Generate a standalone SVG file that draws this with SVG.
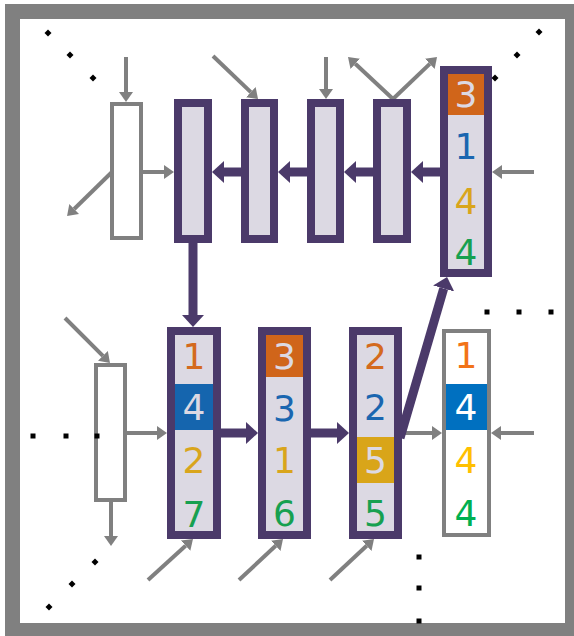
<svg xmlns="http://www.w3.org/2000/svg" width="574" height="636" viewBox="0 0 574 636">
  <style>
    .frame { fill: #808080; }
    .paper { fill: #ffffff; }
    .cellbg { fill: #dcd9e3; }
    .pframe { fill: none; stroke: #4b3a6a; stroke-width: 8; }
    .gframe { fill: none; stroke: #808080; stroke-width: 4; }
    .gline { stroke: #808080; stroke-width: 4; fill: none; }
    .pline { stroke: #4b3a6a; stroke-width: 9; fill: none; }
    .num { font-family: "DejaVu Sans", Verdana, sans-serif; font-size: 36px; text-anchor: middle; }
    .o1 { fill: #d46a1e; } .b1 { fill: #1a66b0; } .y1 { fill: #d9a51c; } .g1 { fill: #17a050; }
    .inv { fill: #dcd9e3; }
    .o2 { fill: #f27318; } .y2 { fill: #ffc000; } .g2 { fill: #00b050; } .w2 { fill: #ffffff; }
    .dot { fill: #000000; }
  </style>
  <defs>
    <marker id="gHead" viewBox="0 -7 10 14" refX="0" refY="0" markerWidth="10" markerHeight="14" markerUnits="userSpaceOnUse" orient="auto">
      <path d="M0,-7 L10,0 L0,7 z" fill="#808080"/>
    </marker>
    <marker id="pHead" viewBox="0 -11 12 22" refX="0" refY="0" markerWidth="12" markerHeight="22" markerUnits="userSpaceOnUse" orient="auto">
      <path d="M0,-11 L12,0 L0,11 z" fill="#4b3a6a"/>
    </marker>
    <polygon id="diamond" points="0,-3.5 3.5,0 0,3.5 -3.5,0" class="dot"/>
    <rect id="square" x="-2.5" y="-2.5" width="5" height="5" class="dot"/>
  </defs>

  <!-- outer frame -->
  <rect class="frame" x="5" y="4" width="569" height="632"/>
  <rect class="paper" x="20" y="19" width="545" height="604"/>

  <!-- connectors -->
  <g id="connectors">
    <line class="gline" x1="126" y1="57" x2="126" y2="92" marker-end="url(#gHead)"/>
    <line class="gline" x1="112" y1="172" x2="74.2" y2="209" marker-end="url(#gHead)"/>
    <line class="gline" x1="143" y1="172" x2="164" y2="172" marker-end="url(#gHead)"/>
    <line class="gline" x1="213" y1="56" x2="250.8" y2="92.1" marker-end="url(#gHead)"/>
    <line class="gline" x1="326" y1="57" x2="326" y2="89" marker-end="url(#gHead)"/>
    <line class="gline" x1="393" y1="99" x2="355.3" y2="63.8" marker-end="url(#gHead)"/>
    <line class="gline" x1="393" y1="99" x2="429.8" y2="63.9" marker-end="url(#gHead)"/>
    <line class="gline" x1="534" y1="172" x2="502" y2="172" marker-end="url(#gHead)"/>
    <line class="gline" x1="65" y1="318" x2="102.9" y2="355.9" marker-end="url(#gHead)"/>
    <line class="gline" x1="111" y1="502" x2="111" y2="536" marker-end="url(#gHead)"/>
    <line class="gline" x1="127" y1="433" x2="157" y2="433" marker-end="url(#gHead)"/>
    <line class="gline" x1="148" y1="580" x2="185.6" y2="545.7" marker-end="url(#gHead)"/>
    <line class="gline" x1="239" y1="580" x2="275.7" y2="545.8" marker-end="url(#gHead)"/>
    <line class="gline" x1="330" y1="580" x2="366.7" y2="545.8" marker-end="url(#gHead)"/>
    <line class="gline" x1="402" y1="433" x2="432" y2="433" marker-end="url(#gHead)"/>
    <line class="gline" x1="534" y1="433" x2="501" y2="433" marker-end="url(#gHead)"/>

    <line class="pline" x1="241" y1="172" x2="224" y2="172" marker-end="url(#pHead)"/>
    <line class="pline" x1="307" y1="172" x2="290" y2="172" marker-end="url(#pHead)"/>
    <line class="pline" x1="373" y1="172" x2="356" y2="172" marker-end="url(#pHead)"/>
    <line class="pline" x1="440" y1="172" x2="423" y2="172" marker-end="url(#pHead)"/>
    <line class="pline" x1="193" y1="243" x2="193" y2="315" marker-end="url(#pHead)"/>
    <line class="pline" x1="221" y1="433" x2="246" y2="433" marker-end="url(#pHead)"/>
    <line class="pline" x1="311" y1="433" x2="337" y2="433" marker-end="url(#pHead)"/>
    <line class="pline" x1="400" y1="438" x2="443.7" y2="288.5" marker-end="url(#pHead)"/>
  </g>

  <!-- top row -->
  <g id="w1"><rect class="paper" x="112" y="104" width="29" height="134"/><rect class="gframe" x="112" y="104" width="29" height="134"/></g>
  <g id="r1"><rect class="cellbg" x="178" y="103" width="30" height="136"/><rect class="pframe" x="178" y="103" width="30" height="136"/></g>
  <g id="r2"><rect class="cellbg" x="245" y="103" width="29" height="136"/><rect class="pframe" x="245" y="103" width="29" height="136"/></g>
  <g id="r3"><rect class="cellbg" x="311" y="103" width="29" height="136"/><rect class="pframe" x="311" y="103" width="29" height="136"/></g>
  <g id="r4"><rect class="cellbg" x="377" y="103" width="30" height="136"/><rect class="pframe" x="377" y="103" width="30" height="136"/></g>
  <g id="r5">
    <rect class="cellbg" x="444" y="70" width="44" height="203"/>
    <rect x="448" y="74" width="36" height="41" fill="#d0651a"/>
    <rect class="pframe" x="444" y="70" width="44" height="203"/>
    <text class="num inv" x="466" y="107">3</text>
    <text class="num b1" x="466" y="159">1</text>
    <text class="num y1" x="466" y="214">4</text>
    <text class="num g1" x="466" y="265">4</text>
  </g>

  <!-- bottom row -->
  <g id="w2"><rect class="paper" x="96" y="365" width="29" height="135"/><rect class="gframe" x="96" y="365" width="29" height="135"/></g>
  <g id="a">
    <rect class="cellbg" x="171" y="331" width="46" height="204"/>
    <rect x="175" y="384" width="38" height="46" fill="#1565ae"/>
    <rect class="pframe" x="171" y="331" width="46" height="204"/>
    <text class="num o1" x="194" y="369">1</text>
    <text class="num inv" x="194" y="420">4</text>
    <text class="num y1" x="194" y="473">2</text>
    <text class="num g1" x="194" y="527">7</text>
  </g>
  <g id="b">
    <rect class="cellbg" x="262" y="331" width="45" height="204"/>
    <rect x="266" y="335" width="37" height="42" fill="#d0651a"/>
    <rect class="pframe" x="262" y="331" width="45" height="204"/>
    <text class="num inv" x="284.5" y="369">3</text>
    <text class="num b1" x="284.5" y="421">3</text>
    <text class="num y1" x="284.5" y="473">1</text>
    <text class="num g1" x="284.5" y="526">6</text>
  </g>
  <g id="c">
    <rect class="cellbg" x="353" y="331" width="45" height="204"/>
    <rect x="357" y="437" width="37" height="46" fill="#d9a519"/>
    <rect class="pframe" x="353" y="331" width="45" height="204"/>
    <text class="num o1" x="375.5" y="369">2</text>
    <text class="num b1" x="375.5" y="420">2</text>
    <text class="num inv" x="375.5" y="473">5</text>
    <text class="num g1" x="375.5" y="526">5</text>
  </g>
  <g id="d">
    <rect class="paper" x="444" y="331" width="45" height="204"/>
    <rect x="446" y="384" width="41" height="46" fill="#0070c0"/>
    <rect class="gframe" x="444" y="331" width="45" height="204"/>
    <text class="num o2" x="466" y="368">1</text>
    <text class="num w2" x="466" y="420">4</text>
    <text class="num y2" x="466" y="473">4</text>
    <text class="num g2" x="466" y="526">4</text>
  </g>

  <!-- ellipsis dots -->
  <g id="dots">
    <use href="#diamond" x="48" y="33"/><use href="#diamond" x="70" y="55"/><use href="#diamond" x="93" y="78"/>
    <use href="#diamond" x="539" y="32"/><use href="#diamond" x="517" y="55"/><use href="#diamond" x="495" y="78"/>
    <use href="#diamond" x="95" y="562"/><use href="#diamond" x="72" y="584"/><use href="#diamond" x="49" y="607"/>
    <use href="#square" x="33" y="436"/><use href="#square" x="66" y="436"/><use href="#square" x="97" y="436"/>
    <use href="#square" x="487" y="312"/><use href="#square" x="519" y="312"/><use href="#square" x="551" y="312"/>
    <use href="#square" x="419" y="557"/><use href="#square" x="419" y="588"/><use href="#square" x="419" y="621"/>
  </g>
</svg>
